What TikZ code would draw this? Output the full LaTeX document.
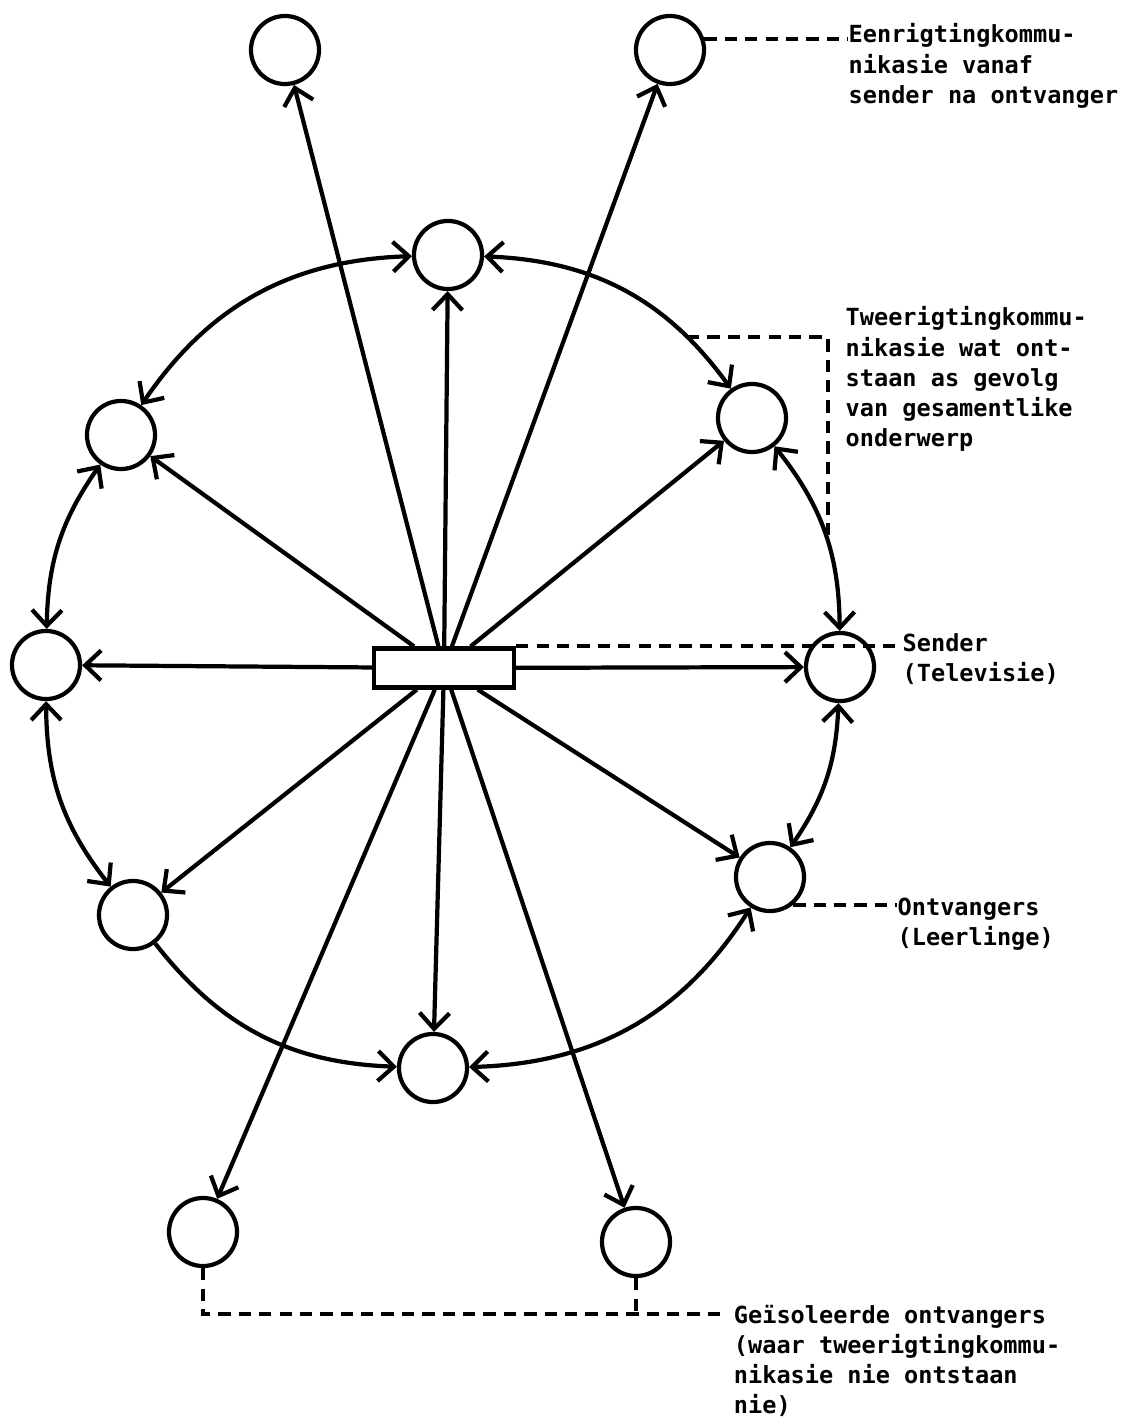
\documentclass[tikz,border=0pt]{standalone}
\usepackage{fontspec}
\newfontfamily\typer{DejaVu Sans Mono}
\usetikzlibrary{arrows.meta}
\begin{document}
\begin{tikzpicture}[x=0.01cm,y=0.01cm,
  every node/.style={font=\typer\bfseries\fontsize{6.7}{8.6}\selectfont},
  pupil/.style={draw,line width=1.2pt,circle,minimum size=0.68cm,inner sep=0pt},
  spoke/.style={line width=1.2pt,-{Straight Barb[length=4.5pt,width=8.5pt]}},
  both/.style={line width=1.2pt,{Straight Barb[length=4.5pt,width=8.5pt]}-{Straight Barb[length=4.5pt,width=8.5pt]}},
  leader/.style={line width=1.2pt,dash pattern=on 3.5pt off 2.3pt},
  note/.style={align=left,inner sep=0pt,anchor=north west}]
\useasboundingbox (0,0) rectangle (1123,-1421);
\node[draw,line width=1.2pt,minimum width=1.4cm,minimum height=0.39cm,inner sep=0pt] (sender) at (444,-668) {};
\node[pupil] (tl) at (285,-50) {};
\node[pupil] (tr) at (670,-50) {};
\node[pupil] (tc) at (448,-255) {};
\node[pupil] (ul) at (121,-435) {};
\node[pupil] (ur) at (752,-418) {};
\node[pupil] (l) at (46,-665) {};
\node[pupil] (r) at (840,-667) {};
\node[pupil] (lr) at (770,-877) {};
\node[pupil] (ll) at (133,-915) {};
\node[pupil] (bc) at (433,-1068) {};
\node[pupil] (il) at (203,-1232) {};
\node[pupil] (ir) at (636,-1242) {};
\foreach \p in {tl,tr,tc,ul,ur,l,r,lr,ll,bc,il,ir}
  \draw[spoke] (sender) -- (\p);
\draw[both] (tc) to[bend left=26] coordinate[pos=0.78] (arcA) (ur);
\draw[both] (ur) to[bend left=19] coordinate[pos=0.55] (arcB) (r);
\draw[both] (r) to[bend left=16] (lr);
\draw[both] (lr) to[bend left=28] (bc);
\draw[spoke] (ll) to[bend right=25] (bc);
\draw[both] (ll) to[bend left=19] (l);
\draw[both] (l) to[bend left=17] (ul);
\draw[both] (ul) to[bend left=27] (tc);
\node[note] (oneway) at (848,-23) {Eenrigtingkommu-\\nikasie vanaf\\sender na ontvanger};
\node[note] (twoway) at (845,-306) {Tweerigtingkommu-\\nikasie wat ont-\\staan as gevolg\\van gesamentlike\\onderwerp};
\node[note] (sendlab) at (902,-633) {Sender\\(Televisie)};
\node[note] (recvlab) at (897,-897) {Ontvangers\\(Leerlinge)};
\coordinate (isojoin) at (728,-1314);
\node[note] (isolab) at ([xshift=1.5pt,yshift=2.8pt]isojoin) {Geïsoleerde ontvangers\\(waar tweerigtingkommu-\\nikasie nie ontstaan\\nie)};
\draw[leader] (tr.18) -- (tr.18 -| oneway.west);
\draw[leader] (arcA) -| (arcB);
\draw[leader,shorten >=2pt] (sender.north east) -- (sender.north east -| sendlab.west);
\draw[leader] (lr.-50) -- (lr.-50 -| recvlab.west);
\draw[leader] (il.south) |- (isojoin);
\draw[leader] (ir.south) -- (ir.south |- isojoin);
\end{tikzpicture}
\end{document}
